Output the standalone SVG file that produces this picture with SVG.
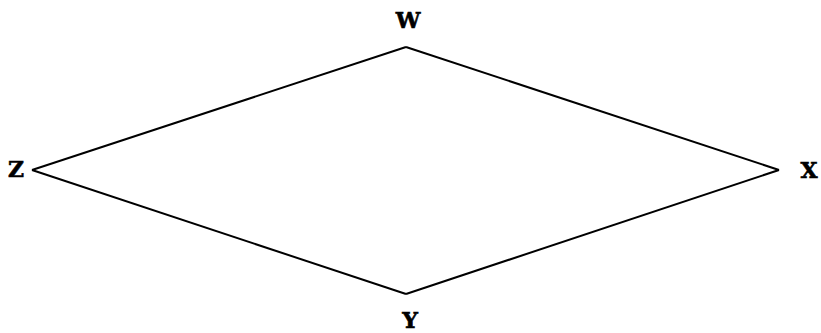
<svg xmlns="http://www.w3.org/2000/svg" width="821" height="333" viewBox="0 0 821 333">
<defs>
<style>
text{font-family:'DejaVu Serif',serif;font-weight:700;font-size:22px;fill:#000;stroke:#000;stroke-width:0.6;text-anchor:middle}
.edge{fill:none;stroke:#000;stroke-width:2;stroke-linejoin:miter}
</style>
</defs>
<rect width="821" height="333" fill="#fff"/>
<g id="connectors">
<polyline class="edge" points="406,47 779,170"/>
<polyline class="edge" points="779,170 406,294"/>
<polyline class="edge" points="406,294 32,170"/>
<polyline class="edge" points="32,170 406,47"/>
</g>
<g id="W"><text x="408" y="28">W</text></g>
<g id="X"><text x="809" y="178">X</text></g>
<g id="Y"><text x="410" y="328">Y</text></g>
<g id="Z"><text x="16" y="177">Z</text></g>
</svg>
